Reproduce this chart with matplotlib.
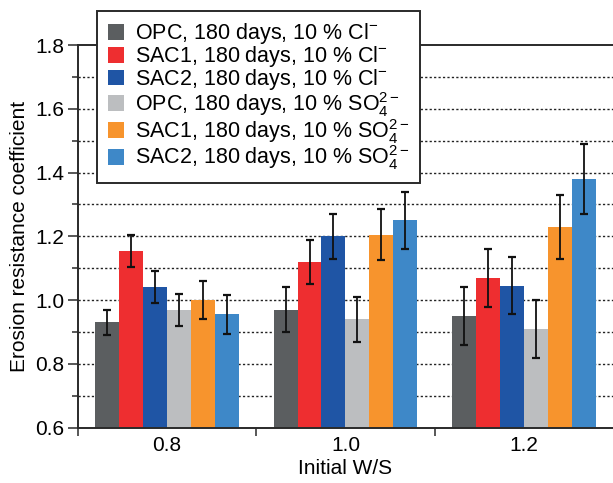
import numpy as np
import matplotlib
matplotlib.use('Agg')
import matplotlib.pyplot as plt
from matplotlib.ticker import MultipleLocator, FixedLocator

# erosion resistance coefficient after 180 days, per initial W/S
ws_labels = ['0.8', '1.0', '1.2']

opc_cl = [0.93, 0.97, 0.95]
sac1_cl = [1.155, 1.12, 1.07]
sac2_cl = [1.04, 1.20, 1.045]
opc_so4 = [0.97, 0.94, 0.91]
sac1_so4 = [1.00, 1.205, 1.23]
sac2_so4 = [0.955, 1.25, 1.38]

opc_cl_err = [0.04, 0.07, 0.09]
sac1_cl_err = [0.05, 0.07, 0.09]
sac2_cl_err = [0.05, 0.07, 0.09]
opc_so4_err = [0.05, 0.07, 0.09]
sac1_so4_err = [0.06, 0.08, 0.10]
sac2_so4_err = [0.06, 0.09, 0.11]

series = [opc_cl, sac1_cl, sac2_cl, opc_so4, sac1_so4, sac2_so4]
errors = [opc_cl_err, sac1_cl_err, sac2_cl_err, opc_so4_err, sac1_so4_err, sac2_so4_err]
labels = ['OPC, 180 days, 10 % Cl$^{-}$',
          'SAC1, 180 days, 10 % Cl$^{-}$',
          'SAC2, 180 days, 10 % Cl$^{-}$',
          'OPC, 180 days, 10 % SO$_4^{2-}$',
          'SAC1, 180 days, 10 % SO$_4^{2-}$',
          'SAC2, 180 days, 10 % SO$_4^{2-}$']
colors = ['#5b5e60', '#ee2e30', '#1f55a5', '#bcbec0', '#f7942d', '#3e88c8']

plt.rcParams['font.family'] = ['Liberation Sans', 'DejaVu Sans']
plt.rcParams['mathtext.fontset'] = 'custom'
plt.rcParams['mathtext.rm'] = 'Liberation Sans'
plt.rcParams['mathtext.it'] = 'Liberation Sans:italic'
plt.rcParams['mathtext.bf'] = 'Liberation Sans:bold'

fig = plt.figure(figsize=(6.13, 4.83), dpi=100)
ax = fig.add_axes([0.1272, 0.1145, 0.8728, 0.7923])

x = np.arange(len(ws_labels))
w = 0.1345
for i in range(len(series)):
    ax.bar(x + (i - 2.5) * w, series[i], w, color=colors[i], label=labels[i],
           yerr=errors[i], capsize=3.2,
           error_kw=dict(ecolor='#111111', elinewidth=1.3, capthick=1.6))

ax.set_xlim(-0.5, 2.5)
ax.set_ylim(0.6, 1.8)

# axes frame
for s in ['left', 'bottom', 'top']:
    ax.spines[s].set_linewidth(1.4)
    ax.spines[s].set_color('#2a2a2a')
ax.spines['right'].set_visible(False)

ax.yaxis.set_major_locator(MultipleLocator(0.2))
ax.yaxis.set_minor_locator(MultipleLocator(0.1))
ax.yaxis.set_major_formatter(plt.FormatStrFormatter('%.1f'))
ax.tick_params(axis='y', which='major', direction='out', length=7, width=1.1,
               color='#2a2a2a', labelsize=15, pad=3)
ax.tick_params(axis='y', which='minor', direction='out', length=4, width=1.1,
               color='#2a2a2a')

ax.set_xticks(x)
ax.set_xticklabels(ws_labels)
ax.xaxis.set_minor_locator(FixedLocator([-0.5, 0.5, 1.5]))
ax.tick_params(axis='x', which='major', length=0, labelsize=15, pad=6)
ax.tick_params(axis='x', which='minor', direction='out', length=6, width=1.1,
               color='#2a2a2a')

# dotted grid every 0.1
ax.set_axisbelow(True)
for yv in np.arange(0.7, 1.75, 0.1):
    ax.axhline(yv, color='#222222', lw=1.0, ls=(0, (1.6, 1.6)), zorder=0)

ax.set_xlabel('Initial W/S', fontsize=15, labelpad=3)
ax.set_ylabel('Erosion resistance coefficient', fontsize=15, labelpad=4)

leg = ax.legend(loc='upper left', bbox_to_anchor=(0.0355, 1.090), borderaxespad=0,
                fontsize=15.5, frameon=True, fancybox=False, framealpha=1,
                handlelength=0.75, handleheight=0.75, handletextpad=0.5,
                labelspacing=-0.1, borderpad=0.5)
leg.get_frame().set_edgecolor('#2a2a2a')
leg.get_frame().set_linewidth(1.4)
leg.set_zorder(10)

plt.savefig('out.png', dpi=100)
